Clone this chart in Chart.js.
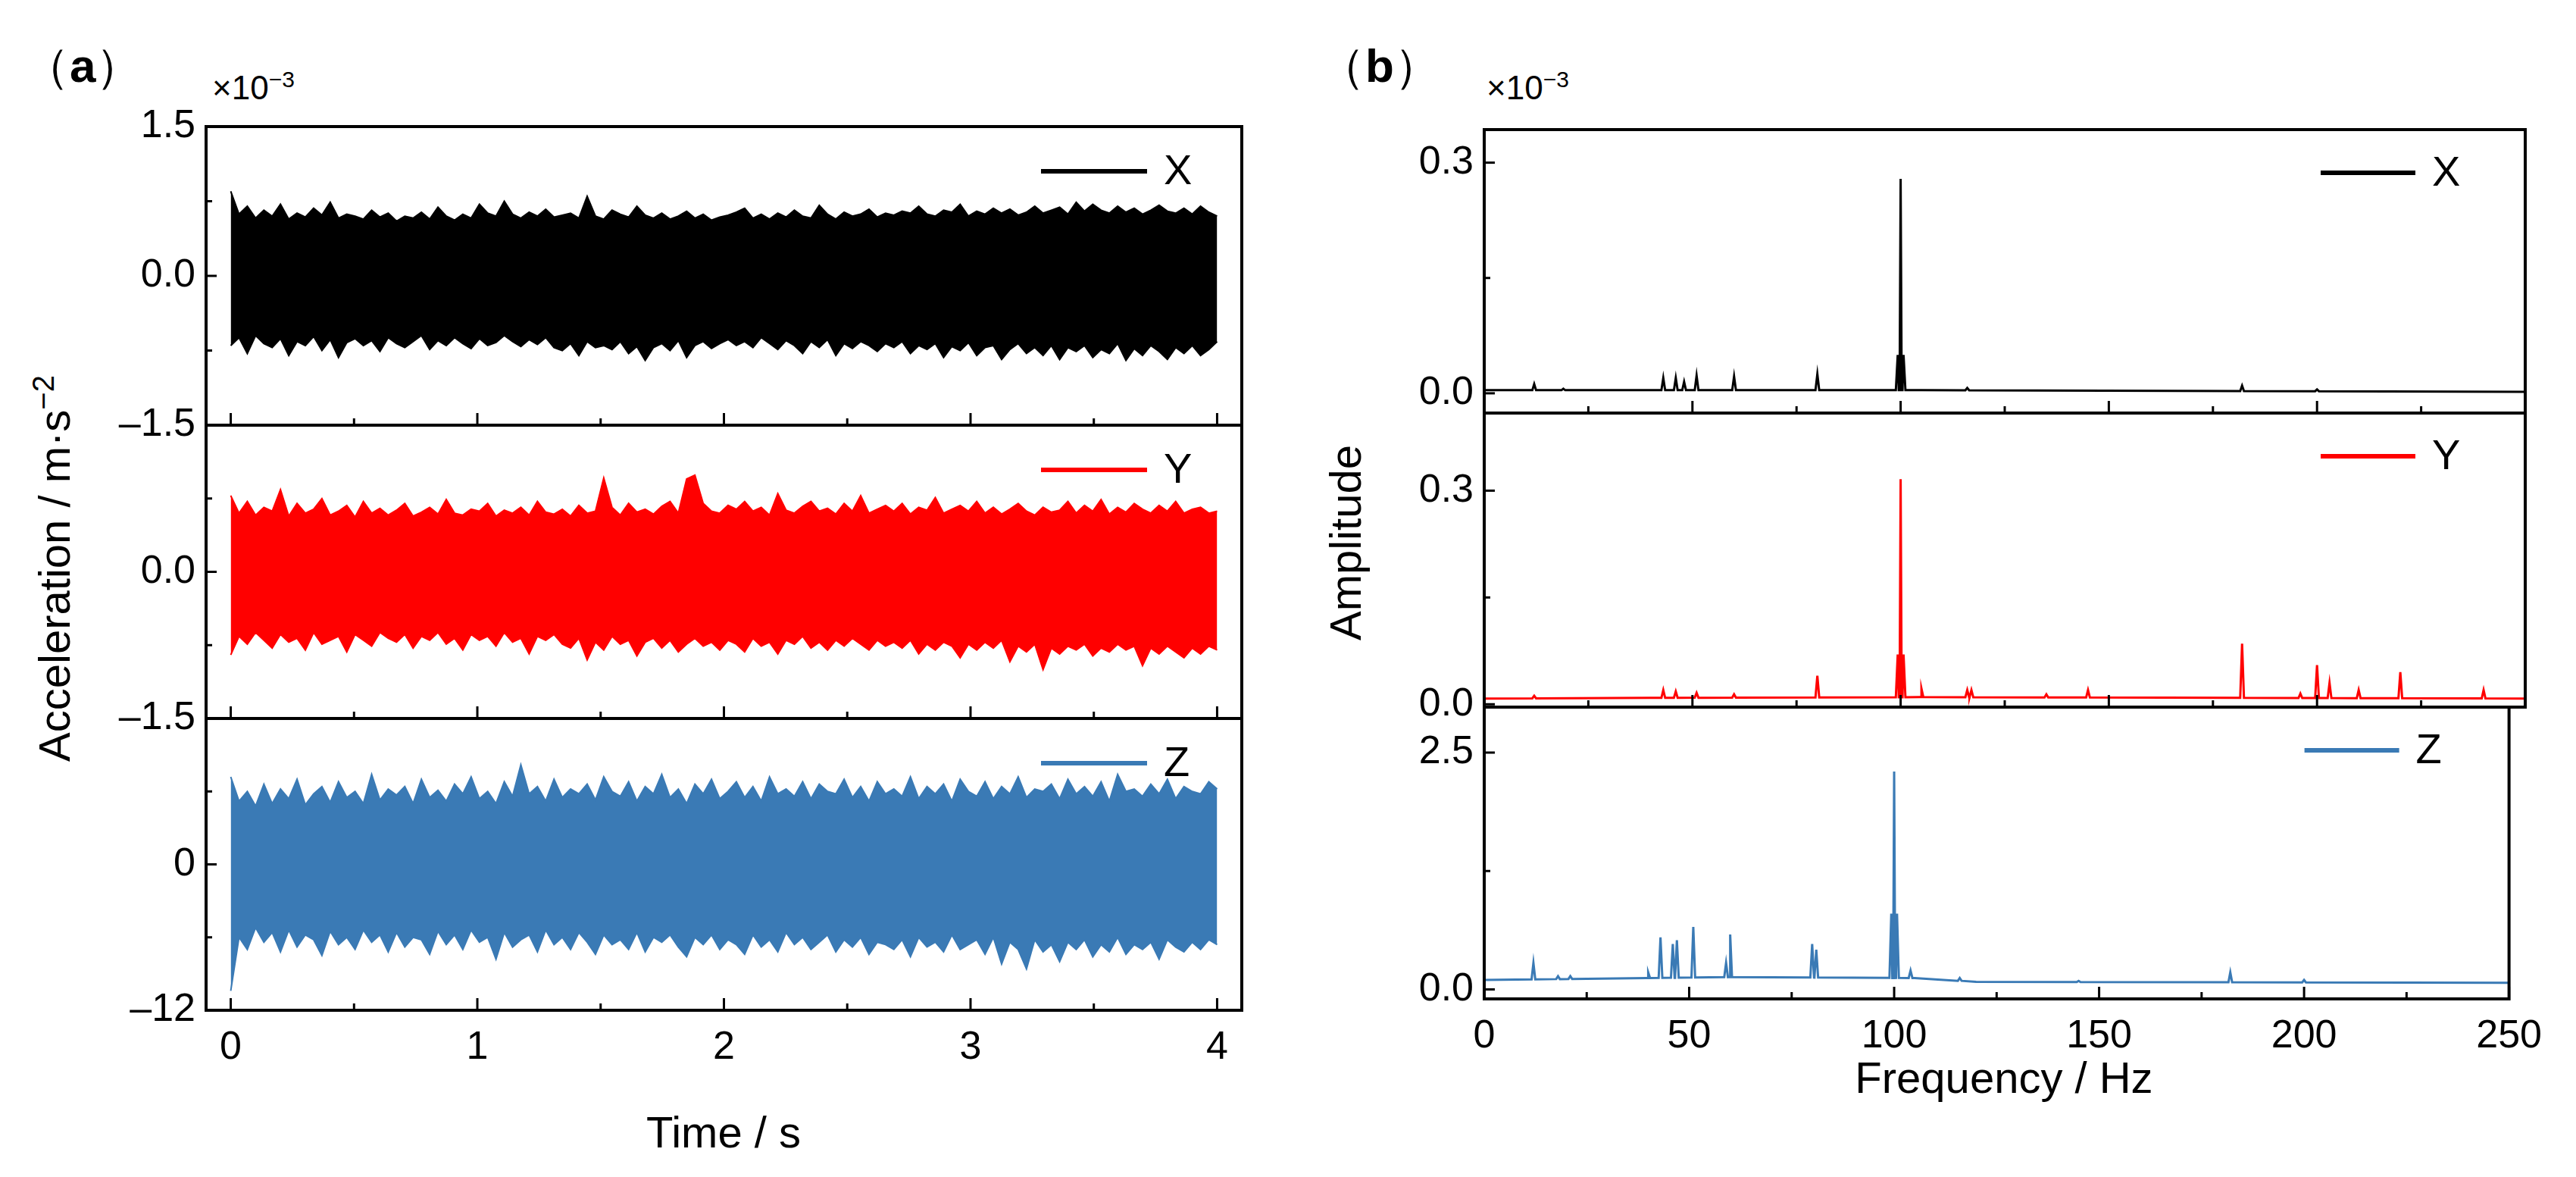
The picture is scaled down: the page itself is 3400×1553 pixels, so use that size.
<!DOCTYPE html>
<html><head><meta charset="utf-8">
<script src="https://cdn.jsdelivr.net/npm/chart.js@4/dist/chart.umd.min.js"></script>
<style>
body{margin:0;width:3400px;height:1553px;background:#fff;position:relative;overflow:hidden;font-family:"Liberation Sans",Arial,sans-serif;}
canvas{position:absolute;}
.t{position:absolute;color:#000;white-space:nowrap;}
</style></head><body>
<div class="t" style="left:30px;top:45px;font-size:62px;">（<b>a</b>）</div>
<div class="t" style="left:1740px;top:45px;font-size:62px;">（<b>b</b>）</div>
<div class="t" style="left:280px;top:88px;font-size:44px;">×10<sup style="font-size:30px">−3</sup></div>
<div class="t" style="left:1962px;top:88px;font-size:44px;">×10<sup style="font-size:30px">−3</sup></div>
<div class="t" style="left:70px;top:750px;font-size:58px;transform:translate(-50%,-50%) rotate(-90deg);">Acceleration / m·s<sup style="font-size:40px">−2</sup></div>
<div class="t" style="left:1775px;top:716px;font-size:58px;transform:translate(-50%,-50%) rotate(-90deg);">Amplitude</div>
<div class="t" style="left:955px;top:1493px;font-size:58px;transform:translate(-50%,-50%);">Time / s</div>
<div class="t" style="left:2645px;top:1421px;font-size:58px;transform:translate(-50%,-50%);">Frequency / Hz</div>
<canvas id="a1"></canvas><canvas id="a2"></canvas><canvas id="a3"></canvas>
<canvas id="b1"></canvas><canvas id="b2"></canvas><canvas id="b3"></canvas>
<script>
// ---- time-domain envelopes (x1e-3 m/s^2), 120 bins over 0..4 s ----
const xHi=[85,62,70,58,66,60,72,57,63,59,68,61,74,58,62,60,57,66,59,63,
55,60,58,64,57,69,60,56,62,58,72,63,60,75,62,58,64,60,67,59,
61,63,58,80,60,57,66,62,59,70,61,58,63,57,60,65,58,62,56,59,
61,64,68,58,62,57,63,59,66,60,58,71,62,57,64,60,62,67,59,63,
61,65,63,70,62,60,66,64,72,60,65,62,68,63,67,61,64,70,63,66,
69,62,74,65,72,66,63,70,64,68,62,66,71,65,63,68,62,70,64,60];
const xLo=[-70,-62,-78,-60,-68,-72,-63,-80,-66,-70,-61,-75,-64,-82,-67,-63,-70,-65,-76,-62,
-68,-72,-66,-60,-74,-65,-70,-62,-68,-73,-63,-70,-67,-60,-66,-71,-64,-69,-62,-72,
-75,-68,-80,-66,-72,-70,-74,-66,-78,-71,-85,-72,-68,-75,-65,-82,-70,-66,-73,-68,
-64,-70,-66,-72,-62,-68,-74,-65,-70,-78,-66,-72,-64,-80,-68,-73,-66,-70,-76,-68,
-72,-66,-78,-70,-74,-68,-82,-71,-75,-67,-80,-72,-70,-84,-74,-68,-78,-72,-80,-70,
-84,-72,-76,-70,-82,-74,-78,-68,-85,-73,-80,-70,-76,-84,-72,-78,-70,-80,-74,-66];
const yHi=[78,60,72,58,66,62,84,57,70,60,64,75,58,62,68,56,72,60,65,58,
63,70,57,61,66,59,74,60,58,64,62,70,57,63,60,66,58,72,61,59,
64,57,68,60,62,96,66,58,70,61,64,59,67,72,60,95,99,70,62,60,
68,64,72,62,66,58,80,63,60,67,72,62,65,59,70,62,78,60,64,68,
62,70,59,66,63,76,60,64,68,62,72,60,66,59,64,70,62,58,66,61,
63,72,60,68,62,74,59,66,61,70,64,60,68,62,72,60,64,66,60,62];
const yLo=[-85,-66,-74,-62,-70,-78,-64,-72,-68,-80,-62,-74,-70,-66,-82,-64,-70,-76,-62,-68,
-72,-64,-78,-66,-70,-62,-74,-68,-80,-64,-70,-66,-76,-62,-72,-68,-84,-66,-70,-64,
-74,-78,-68,-90,-72,-80,-66,-74,-70,-86,-72,-68,-78,-70,-82,-74,-68,-76,-72,-80,
-70,-74,-82,-68,-76,-72,-84,-70,-74,-66,-78,-72,-80,-70,-76,-68,-74,-80,-70,-76,
-72,-78,-70,-84,-74,-80,-72,-76,-88,-74,-80,-72,-78,-70,-92,-76,-82,-74,-100,-78,
-84,-76,-80,-74,-86,-78,-82,-74,-80,-76,-96,-78,-84,-76,-82,-88,-78,-84,-76,-80];
const zHi=[72,52,60,48,66,50,62,54,70,49,58,64,51,68,55,60,50,74,53,62,
57,64,50,70,55,61,52,66,58,72,54,60,50,68,56,82,58,64,52,70,
55,62,58,66,53,72,60,56,68,52,64,58,74,55,62,50,66,58,70,54,
60,68,55,64,52,72,58,62,56,68,54,66,60,58,70,55,64,52,68,58,
62,56,72,54,64,58,66,52,70,60,56,68,54,64,58,72,55,62,60,66,
54,70,58,64,56,68,52,74,60,62,56,66,58,70,54,64,60,58,68,62];
const zLo=[-104,-60,-70,-52,-64,-56,-72,-54,-68,-58,-62,-75,-55,-66,-60,-70,-54,-64,-58,-72,
-56,-68,-60,-62,-74,-55,-66,-58,-70,-54,-64,-60,-78,-56,-68,-62,-58,-72,-54,-66,
-60,-70,-56,-64,-74,-58,-66,-62,-70,-56,-72,-60,-64,-58,-68,-76,-60,-66,-58,-70,
-62,-66,-74,-58,-68,-62,-72,-56,-66,-60,-70,-64,-58,-72,-62,-68,-60,-74,-64,-66,
-70,-62,-76,-60,-68,-64,-72,-58,-70,-66,-62,-74,-60,-82,-64,-70,-86,-62,-72,-66,
-80,-64,-70,-62,-76,-66,-72,-60,-74,-66,-70,-64,-78,-62,-68,-72,-64,-70,-62,-66];
// ---- spectra (x1e-3): baseline knots and peaks ----
const xBaseF=[0,40,105,250], xBaseA=[0.004,0.004,0.004,0.002];
const xPeakF=[12,19,43,46,48,51,60,80,99.3,100,100.7,116,182,200];
const xPeakA=[0.012,0.006,0.02,0.02,0.015,0.023,0.022,0.025,0.05,0.279,0.05,0.007,0.01,0.005];
const yBaseF=[0,40,105,250], yBaseA=[0.008,0.009,0.01,0.008];
const yPeakF=[12,43,46,51,60,80,99.3,100,100.7,105,116,117,135,145,182,196,200,203,210,220,240];
const yPeakA=[0.012,0.02,0.018,0.016,0.014,0.04,0.07,0.316,0.07,0.022,0.02,0.02,0.014,0.02,0.085,0.015,0.055,0.03,0.02,0.045,0.02];
const zBaseF=[0,40,60,105,120,250], zBaseA=[0.1,0.12,0.13,0.12,0.08,0.07];
const zPeakF=[12,18,21,40,43,46,47,51,59,60,80,81,99.3,100,100.7,104,116,145,182,200];
const zPeakA=[0.28,0.14,0.14,0.18,0.55,0.48,0.52,0.66,0.28,0.58,0.48,0.42,0.8,2.3,0.8,0.2,0.12,0.09,0.18,0.1];

const BLACK='#000000', RED='#ff0000', BLUE='#3a7ab5';
const tickFont={family:'"Liberation Sans", Arial, sans-serif',size:52};

function timeSeries(hi,lo,scale){
  const n=hi.length, H=[], L=[];
  for(let i=0;i<n;i++){const t=4*i/(n-1);H.push({x:t,y:hi[i]*scale});L.push({x:t,y:lo[i]*scale});}
  return [H,L];
}
function spectrum(bf,ba,pf,pa){
  const pts=[];
  bf.forEach((f,i)=>pts.push({x:f,y:ba[i]}));
  const base=f=>{for(let i=0;i<bf.length-1;i++){if(f<=bf[i+1])return ba[i]+(ba[i+1]-ba[i])*(f-bf[i])/(bf[i+1]-bf[i]);}return ba[ba.length-1];};
  pf.forEach((f,i)=>{pts.push({x:f-0.45,y:base(f)});pts.push({x:f,y:pa[i]});pts.push({x:f+0.45,y:base(f)});});
  pts.sort((a,b)=>a.x-b.x);
  return pts;
}
const frame={id:'frame',afterDraw(c,args,o){
  const a=c.chartArea, ctx=c.ctx, tk=c.options.plugins.frame;
  ctx.save();ctx.strokeStyle='#000';ctx.lineWidth=4;
  ctx.strokeRect(a.left,a.top,a.right-a.left,a.bottom-a.top);
  ctx.lineWidth=3;
  const xs=c.scales.x, ys=c.scales.y;
  const dx=(v,len)=>{const p=xs.getPixelForValue(v);ctx.beginPath();ctx.moveTo(p,a.bottom);ctx.lineTo(p,a.bottom-len);ctx.stroke();};
  const dy=(v,len)=>{const p=ys.getPixelForValue(v);ctx.beginPath();ctx.moveTo(a.left,p);ctx.lineTo(a.left+len,p);ctx.stroke();};
  tk.xMaj.forEach(v=>dx(v,16));tk.xMin.forEach(v=>dx(v,9));
  tk.yMaj.forEach(v=>dy(v,14));tk.yMin.forEach(v=>dy(v,8));
  const ds=c.data.datasets[0];
  const ly=a.top+tk.legY;
  ctx.strokeStyle=ds.borderColor;ctx.lineWidth=6;
  ctx.beginPath();ctx.moveTo(a.right-tk.legX,ly);ctx.lineTo(a.right-tk.legX+tk.legW,ly);ctx.stroke();
  ctx.fillStyle='#000';ctx.font='56px "Liberation Sans", Arial, sans-serif';ctx.textBaseline='middle';
  ctx.fillText(ds.label,a.right-tk.legX+tk.legW+22,ly+2);
  ctx.restore();
}};
function make(id,box,datasets,x,y,tk,bottom){
  const padT=50, padB=bottom?10:50, axH=bottom?110:0, axW=200, padR=40;
  const cv=document.getElementById(id);
  cv.width=box.r-box.l+axW+padR; cv.height=box.b-box.t+padT+axH+padB;
  cv.style.left=(box.l-axW)+'px'; cv.style.top=(box.t-padT)+'px';
  new Chart(cv,{type:'line',data:{datasets},
    options:{responsive:false,devicePixelRatio:1,animation:false,
      layout:{padding:{top:padT,right:padR,left:0,bottom:padB}},
      elements:{point:{radius:0},line:{tension:0}},
      plugins:{legend:{display:false},tooltip:{enabled:false},frame:tk},
      scales:{
        x:{type:'linear',display:bottom,min:x.min,max:x.max,grid:{display:false,drawTicks:false},border:{display:false},
          afterBuildTicks:s=>{s.ticks=x.ticks.map(v=>({value:v}));},
          afterFit:s=>{s.height=axH;},
          ticks:{display:bottom,font:tickFont,color:'#000',padding:18,maxRotation:0,callback:v=>String(v)}},
        y:{type:'linear',min:y.min,max:y.max,grid:{display:false,drawTicks:false},border:{display:false},
          afterBuildTicks:s=>{s.ticks=y.ticks.map(v=>({value:v}));},
          afterFit:s=>{s.width=axW;},
          ticks:{font:tickFont,color:'#000',padding:14,callback:v=>y.labels[y.ticks.indexOf(v)]}}
      }},plugins:[frame]});
}
const tA={min:-0.1,max:4.1,ticks:[0,1,2,3,4]};
const tkA={xMaj:[0,1,2,3,4],xMin:[0.5,1.5,2.5,3.5],legX:265,legW:140,legY:59};
const fB={min:0,max:250,ticks:[0,50,100,150,200,250]};
const tkB={xMaj:[0,50,100,150,200,250],xMin:[25,75,125,175,225],legX:270,legW:125,legY:57};
function ts(hi,lo,scale,col,lab){
  const [H,L]=timeSeries(hi,lo,scale);
  return [{label:lab,data:H,borderColor:col,backgroundColor:col,borderWidth:2,fill:'+1'},
          {label:lab,data:L,borderColor:col,borderWidth:2,fill:false}];
}
make('a1',{l:272,r:1639,t:167,b:561},ts(xHi,xLo,0.01,BLACK,'X'),tA,
  {min:-1.5,max:1.5,ticks:[-1.5,0,1.5],labels:['–1.5','0.0','1.5']},
  Object.assign({},tkA,{yMaj:[-1.5,0,1.5],yMin:[-0.75,0.75]}),false);
make('a2',{l:272,r:1639,t:561,b:948},ts(yHi,yLo,0.01,RED,'Y'),tA,
  {min:-1.5,max:1.5,ticks:[-1.5,0],labels:['–1.5','0.0']},
  Object.assign({},tkA,{yMaj:[-1.5,0,1.5],yMin:[-0.75,0.75]}),false);
make('a3',{l:272,r:1639,t:948,b:1333},ts(zHi,zLo,0.1,BLUE,'Z'),tA,
  {min:-12,max:12,ticks:[-12,0],labels:['–12','0']},
  Object.assign({},tkA,{yMaj:[-12,0,12],yMin:[-6,6]}),true);
const sp=(bf,ba,pf,pa,col,lab)=>[{label:lab,data:spectrum(bf,ba,pf,pa),borderColor:col,borderWidth:3,fill:false}];
make('b1',{l:1959,r:3333,t:171,b:545},sp(xBaseF,xBaseA,xPeakF,xPeakA,BLACK,'X'),fB,
  {min:-0.0257,max:0.343,ticks:[0,0.3],labels:['0.0','0.3']},
  Object.assign({},tkB,{yMaj:[0,0.3],yMin:[0.15]}),false);
make('b2',{l:1959,r:3333,t:545,b:933},sp(yBaseF,yBaseA,yPeakF,yPeakA,RED,'Y'),fB,
  {min:-0.004,max:0.409,ticks:[0,0.3],labels:['0.0','0.3']},
  Object.assign({},tkB,{yMaj:[0,0.3],yMin:[0.15]}),false);
make('b3',{l:1959,r:3333,t:933,b:1318},sp(zBaseF,zBaseA,zPeakF,zPeakA,BLUE,'Z'),fB,
  {min:-0.1,max:2.98,ticks:[0,2.5],labels:['0.0','2.5']},
  Object.assign({},tkB,{yMaj:[0,2.5],yMin:[1.25]}),true);
</script></body></html>
